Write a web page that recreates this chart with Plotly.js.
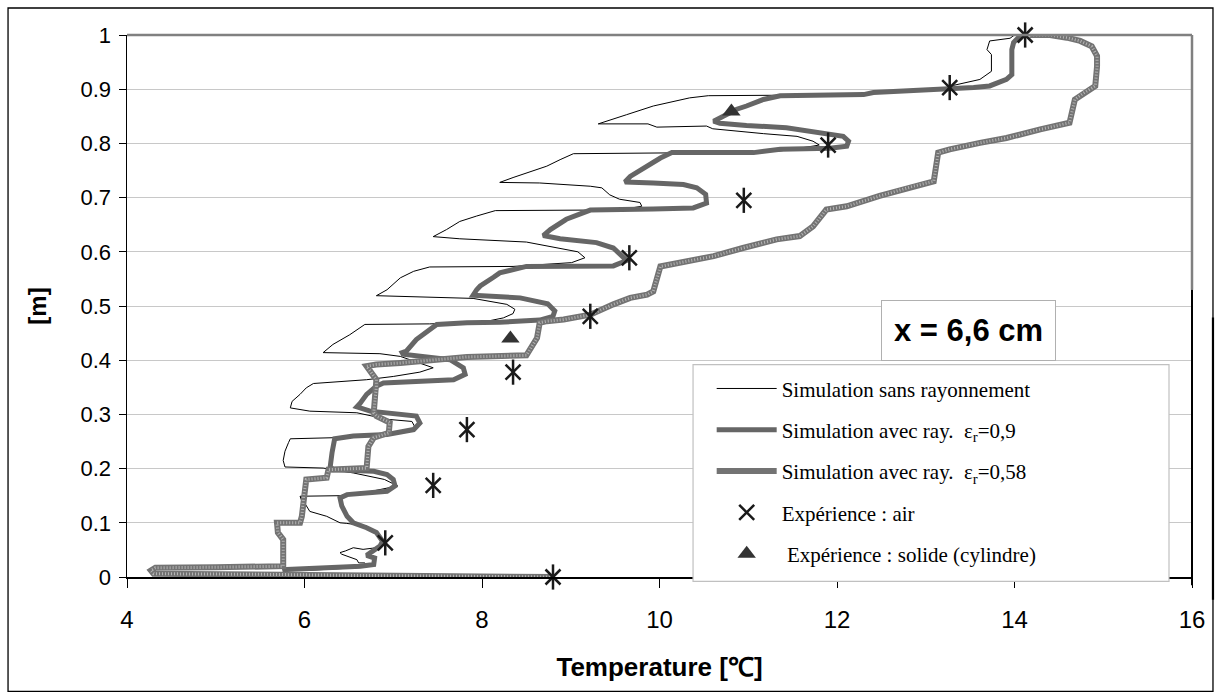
<!DOCTYPE html>
<html>
<head>
<meta charset="utf-8">
<script src="https://cdn.plot.ly/plotly-3.0.1.min.js"></script>
<style>html,body{margin:0;padding:0;background:#fff;}#chart{width:1219px;height:699px;}</style>
</head>
<body>
<div id="chart"></div>
<script>
// [temperature (°C), height (m)] profiles
var simSansRay = [[6.00,0.012],[6.70,0.018],[6.68,0.026],[6.61,0.026],[6.59,0.032],[6.49,0.038],[6.42,0.042],[6.40,0.045],[6.46,0.048],[6.55,0.054],[6.66,0.051],[6.81,0.054],[6.90,0.065],[6.81,0.078],[6.70,0.094],[6.47,0.099],[6.40,0.100],[6.25,0.112],[6.06,0.121],[6.00,0.137],[5.97,0.140],[5.95,0.149],[6.40,0.150],[6.75,0.158],[7.05,0.168],[6.90,0.180],[6.55,0.192],[6.21,0.201],[5.78,0.203],[5.76,0.215],[5.78,0.232],[5.82,0.248],[5.84,0.255],[6.33,0.257],[6.80,0.262],[7.04,0.265],[7.21,0.269],[7.24,0.278],[7.21,0.287],[6.93,0.291],[6.59,0.303],[6.06,0.306],[5.84,0.312],[5.86,0.324],[5.95,0.337],[6.02,0.349],[6.10,0.357],[6.70,0.364],[7.00,0.370],[7.30,0.378],[7.45,0.386],[7.08,0.407],[6.85,0.412],[6.21,0.414],[6.32,0.429],[6.51,0.447],[6.68,0.466],[7.41,0.467],[8.00,0.470],[8.24,0.478],[8.35,0.486],[8.37,0.494],[8.28,0.503],[7.90,0.514],[6.81,0.519],[6.93,0.530],[7.08,0.552],[7.23,0.564],[7.41,0.572],[8.35,0.573],[9.01,0.580],[9.16,0.589],[9.08,0.600],[8.77,0.610],[8.50,0.618],[7.75,0.624],[7.45,0.628],[7.60,0.641],[7.75,0.656],[7.94,0.666],[8.15,0.676],[9.22,0.677],[9.65,0.680],[9.80,0.684],[9.78,0.691],[9.55,0.697],[9.44,0.705],[9.35,0.718],[9.22,0.721],[8.65,0.727],[8.20,0.728],[8.35,0.737],[8.55,0.748],[8.73,0.758],[8.88,0.770],[9.03,0.781],[10.50,0.783],[11.36,0.786],[11.73,0.795],[11.80,0.797],[11.73,0.804],[11.55,0.813],[11.17,0.818],[10.60,0.827],[10.53,0.832],[9.97,0.830],[9.87,0.836],[9.31,0.836],[9.63,0.853],[9.93,0.869],[10.34,0.884],[10.55,0.888],[11.50,0.889],[12.50,0.893],[13.27,0.903],[13.31,0.907],[13.61,0.918],[13.74,0.933],[13.74,0.964],[13.69,0.973],[13.72,0.989],[13.95,0.994],[14.00,1.000],[14.10,1.000]];

var simRay09 = [[5.75,0.012],[5.80,0.014],[6.63,0.020],[6.78,0.023],[6.79,0.035],[6.70,0.040],[6.85,0.057],[6.88,0.066],[6.81,0.082],[6.70,0.091],[6.55,0.100],[6.48,0.112],[6.42,0.131],[6.40,0.146],[6.48,0.152],[6.70,0.155],[6.93,0.158],[7.02,0.168],[7.00,0.180],[6.93,0.189],[6.78,0.195],[6.32,0.198],[6.29,0.204],[6.31,0.229],[6.34,0.255],[6.55,0.260],[6.93,0.263],[7.23,0.272],[7.30,0.284],[7.26,0.297],[6.96,0.303],[6.74,0.306],[6.59,0.314],[6.63,0.321],[6.70,0.337],[6.81,0.352],[6.89,0.358],[7.26,0.361],[7.68,0.364],[7.81,0.374],[7.79,0.386],[7.64,0.401],[7.26,0.409],[7.11,0.411],[7.10,0.414],[7.15,0.417],[7.26,0.438],[7.45,0.463],[7.49,0.466],[7.83,0.469],[8.20,0.470],[8.65,0.474],[8.80,0.481],[8.82,0.491],[8.74,0.504],[8.43,0.515],[8.05,0.519],[7.90,0.520],[7.94,0.530],[7.98,0.537],[8.13,0.553],[8.20,0.561],[8.50,0.573],[9.33,0.573],[9.48,0.574],[9.63,0.584],[9.55,0.598],[9.48,0.607],[9.29,0.617],[8.88,0.624],[8.69,0.630],[8.77,0.641],[8.95,0.660],[9.22,0.677],[9.93,0.679],[10.38,0.681],[10.53,0.690],[10.52,0.706],[10.42,0.718],[10.27,0.724],[9.93,0.727],[9.61,0.729],[9.67,0.739],[9.86,0.758],[10.01,0.773],[10.14,0.783],[11.06,0.783],[11.36,0.789],[11.92,0.791],[12.11,0.795],[12.13,0.804],[12.07,0.813],[11.73,0.822],[11.43,0.829],[10.98,0.833],[10.68,0.837],[10.61,0.841],[10.76,0.853],[10.87,0.863],[10.98,0.869],[11.17,0.881],[11.36,0.888],[12.30,0.890],[12.41,0.894],[13.05,0.898],[13.27,0.901],[13.54,0.903],[13.72,0.906],[13.91,0.918],[13.97,0.927],[13.97,0.973],[13.99,0.986],[14.06,0.998],[14.12,1.000]];

var simRay058 = [[8.80,0.000],[7.50,0.001],[6.50,0.003],[5.50,0.005],[4.30,0.006],[4.27,0.012],[4.32,0.017],[5.00,0.018],[5.76,0.020],[5.76,0.069],[5.70,0.082],[5.69,0.100],[5.95,0.100],[5.97,0.112],[5.99,0.149],[6.02,0.180],[6.25,0.183],[6.27,0.198],[6.70,0.201],[6.72,0.241],[6.78,0.257],[6.95,0.266],[6.96,0.285],[6.81,0.297],[6.78,0.303],[6.81,0.352],[6.81,0.364],[6.70,0.389],[6.81,0.392],[7.08,0.395],[7.45,0.401],[7.83,0.406],[8.50,0.409],[8.54,0.420],[8.62,0.441],[8.65,0.469],[8.73,0.472],[8.92,0.475],[9.22,0.484],[9.48,0.503],[9.67,0.515],[9.86,0.521],[9.93,0.527],[10.01,0.573],[10.23,0.580],[10.61,0.592],[10.94,0.607],[11.32,0.623],[11.58,0.629],[11.73,0.647],[11.88,0.678],[12.11,0.684],[12.48,0.703],[12.86,0.721],[13.09,0.730],[13.14,0.783],[13.27,0.789],[13.61,0.801],[13.91,0.810],[14.29,0.826],[14.62,0.838],[14.68,0.881],[14.78,0.893],[14.91,0.906],[14.93,0.942],[14.93,0.961],[14.87,0.979],[14.74,0.989],[14.59,0.995],[14.40,1.000],[14.17,1.000]];

var airT = [14.12, 13.27, 11.90, 10.95, 9.66, 9.22, 8.35, 7.83, 7.45, 6.91, 8.80];
var airZ = [1.000, 0.903, 0.797, 0.695, 0.589, 0.481, 0.378, 0.272, 0.169, 0.063, 0.000];
var solidT = [10.81, 8.32];
var solidZ = [0.859, 0.440];

var xTicks = [4, 6, 8, 10, 12, 14, 16];
var yTicks = [0, 0.1, 0.2, 0.3, 0.4, 0.5, 0.6, 0.7, 0.8, 0.9, 1];

var names = [
  'Simulation sans rayonnement',
  'Simulation avec ray.\u00a0\u00a0ε<sub>r</sub>=0,9',
  'Simulation avec ray.\u00a0\u00a0ε<sub>r</sub>=0,58',
  'Expérience : air',
  '\u00a0Expérience : solide (cylindre)'
];

function col(arr, i) { return arr.map(function (p) { return p[i]; }); }

var traces = [
  {x: col(simSansRay,0), y: col(simSansRay,1), mode: 'lines', name: names[0], legendgroup: 'g1',
   line: {color: '#000000', width: 1}},
  {x: col(simRay09,0), y: col(simRay09,1), mode: 'lines', name: names[1], legendgroup: 'g2',
   line: {color: '#666666', width: 5}},
  {x: col(simRay058,0), y: col(simRay058,1), mode: 'lines', name: names[2], legendgroup: 'g3',
   line: {color: '#737373', width: 6}},
  {x: col(simRay058,0), y: col(simRay058,1), mode: 'lines', name: names[2], legendgroup: 'g3', showlegend: false,
   line: {color: '#b4b4b4', width: 3, dash: '1px,2px'}},
  {x: airT, y: airZ, mode: 'markers', name: names[3], legendgroup: 'g4', cliponaxis: false,
   marker: {symbol: 'x-thin-open', size: 15, color: '#1a1a1a', line: {color: '#1a1a1a', width: 2.5}}},
  {x: airT, y: airZ, mode: 'markers', name: names[3], legendgroup: 'g4', showlegend: false, cliponaxis: false,
   marker: {symbol: 'line-ns-open', size: 18, color: '#1a1a1a', line: {color: '#1a1a1a', width: 2.5}}},
  {x: solidT, y: solidZ, mode: 'markers', name: names[4], legendgroup: 'g5', cliponaxis: false,
   marker: {symbol: 'triangle-up', size: 16, color: '#333333'}}
];

var layout = {
  width: 1219, height: 699,
  margin: {l: 127, r: 27, t: 35, b: 122},
  paper_bgcolor: '#ffffff', plot_bgcolor: '#ffffff',
  showlegend: true,
  font: {family: 'Liberation Sans, Arial, sans-serif', color: '#000'},
  xaxis: {
    range: [4, 16], tickvals: xTicks, ticktext: xTicks.map(String),
    showgrid: false, zeroline: false, showline: true, linecolor: '#000', linewidth: 1.5,
    ticks: 'outside', ticklen: 9, tickcolor: '#000', tickwidth: 1, ticklabelstandoff: 12,
    tickfont: {size: 24, family: 'Liberation Sans, Arial, sans-serif'},
    title: {text: '<b>Temperature [℃]</b>', font: {size: 26, family: 'Liberation Sans, Arial, sans-serif'}, standoff: 25}
  },
  yaxis: {
    range: [0, 1], tickvals: yTicks, ticktext: yTicks.map(String),
    showgrid: true, gridcolor: '#c8c8c8', gridwidth: 1, zeroline: false,
    showline: true, linecolor: '#000', linewidth: 1.5,
    ticks: 'outside', ticklen: 7, tickcolor: '#000', tickwidth: 1, ticklabelstandoff: 3,
    tickfont: {size: 22, family: 'Liberation Sans, Arial, sans-serif'},
    title: {text: '<b>[m]</b>', font: {size: 24, family: 'Liberation Sans, Arial, sans-serif'}, standoff: 27}
  },
  legend: {
    x: 0.549, y: 0.385, xanchor: 'left', yanchor: 'top',
    bgcolor: 'rgba(0,0,0,0)', borderwidth: 0,
    font: {family: 'Liberation Serif, Times New Roman, serif', size: 21, color: '#000'},
    itemwidth: 60, traceorder: 'grouped', tracegroupgap: 11
  },
  shapes: [
    // legend box
    {type: 'rect', xref: 'paper', yref: 'paper', x0: 0.5315, x1: 0.9784, y0: -0.008, y1: 0.392,
     fillcolor: '#ffffff', line: {color: '#c0c0c0', width: 1.2}, layer: 'above'},
    // plot top and right borders
    {type: 'line', xref: 'paper', yref: 'paper', x0: 0, x1: 1, y0: 1, y1: 1, line: {color: '#808080', width: 2.5}},
    {type: 'line', xref: 'paper', yref: 'paper', x0: 1, x1: 1, y0: 1, y1: 0.53, line: {color: '#808080', width: 2.5}},
    {type: 'line', xref: 'paper', yref: 'paper', x0: 1, x1: 1, y0: 0.53, y1: -0.015, line: {color: '#000000', width: 2}},
    // outer frame
    {type: 'rect', xref: 'paper', yref: 'paper', x0: -0.1117, x1: 1.0197, y0: -0.211, y1: 1.0498,
     line: {color: '#000000', width: 1.3}, fillcolor: 'rgba(0,0,0,0)'},
    {type: 'line', xref: 'paper', yref: 'paper', x0: 1.0197, x1: 1.0197, y0: 0.479, y1: -0.042,
     line: {color: '#000000', width: 2.2}}
  ],
  annotations: [
    {xref: 'paper', yref: 'paper', x: 0.7897, y: 0.4544, xanchor: 'center', yanchor: 'middle',
     text: '<b>x = 6,6 cm</b>', showarrow: false,
     font: {family: 'Liberation Sans, Arial, sans-serif', size: 31, color: '#000'},
     bgcolor: '#ffffff', bordercolor: '#b0b0b0', borderwidth: 1, borderpad: 12}
  ]
};

Plotly.newPlot('chart', traces, layout, {displayModeBar: false, staticPlot: true});
</script>
</body>
</html>
